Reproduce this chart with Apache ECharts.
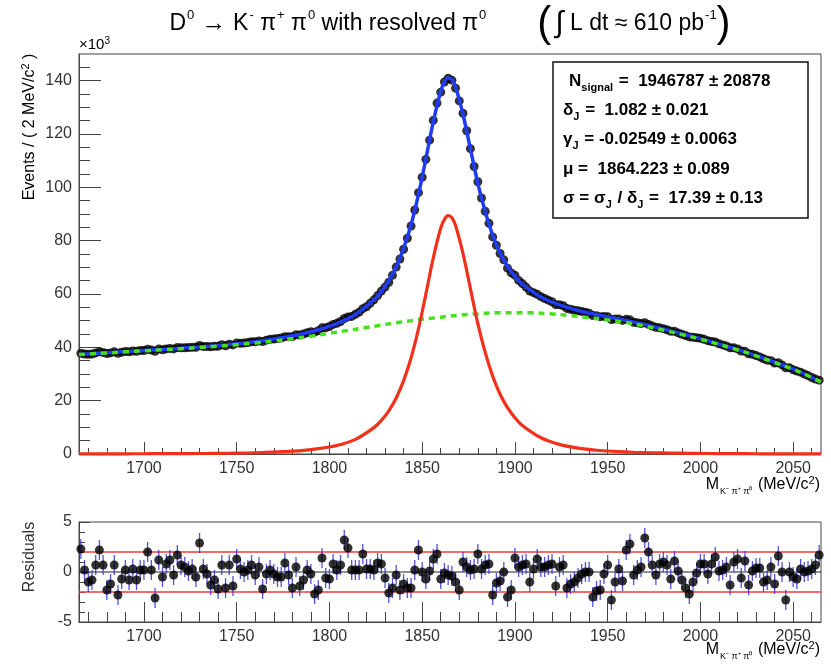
<!DOCTYPE html>
<html>
<head>
<meta charset="utf-8">
<script src="https://cdn.jsdelivr.net/npm/echarts@6/dist/echarts.min.js"></script>
<style>
  html, body { margin: 0; padding: 0; background: #fff; }
  #chart { width: 831px; height: 665px; }
</style>
</head>
<body>
<div id="chart"></div>
<script>
// Binning of the invariant-mass histogram (MeV/c^2)
const binLow = 1665;
const binWidth = 2;

// Events per 2 MeV/c^2 bin, in units of 10^3
const events = [
  37.8, 37.5, 37.4, 37.5, 37.9, 38.3, 38.1, 37.7, 37.9, 38.3,
  37.8, 38.2, 38.4, 38.3, 38.6, 38.5, 38.8, 38.8, 39.3, 39.0,
  38.5, 39.4, 39.1, 39.4, 39.6, 39.4, 39.9, 39.8, 39.8, 39.9,
  40.0, 40.0, 40.7, 40.3, 40.3, 40.2, 40.4, 40.4, 41.0, 40.6,
  41.2, 40.9, 41.6, 41.5, 41.6, 41.8, 42.1, 42.1, 42.4, 42.2,
  42.7, 43.0, 43.1, 43.3, 43.5, 44.0, 44.0, 44.0, 44.7, 44.6,
  45.0, 45.5, 45.8, 45.7, 46.2, 47.3, 47.3, 47.8, 48.6, 49.0,
  49.7, 50.8, 51.4, 51.6, 52.4, 53.2, 54.5, 55.2, 56.5, 57.8,
  59.4, 61.1, 62.6, 64.4, 67.0, 70.1, 73.1, 76.8, 80.9, 85.5,
  91.5, 98.0, 103.8, 110.5, 117.7, 125.1, 131.6, 135.7, 139.5, 140.9,
  140.2, 137.2, 132.4, 127.8, 121.2, 114.5, 107.8, 102.1, 96.0, 91.0,
  86.5, 81.4, 78.3, 75.2, 72.8, 69.7, 67.9, 67.0, 65.1, 63.9,
  62.6, 61.1, 60.5, 59.9, 59.0, 58.3, 57.7, 57.1, 56.0, 56.0,
  55.6, 54.6, 54.3, 53.9, 53.7, 53.4, 53.2, 52.8, 51.9, 51.8,
  51.5, 51.6, 51.5, 50.4, 50.6, 50.6, 50.1, 50.5, 50.3, 49.4,
  49.2, 48.9, 49.2, 48.6, 48.0, 47.5, 47.3, 47.0, 46.6, 46.0,
  46.0, 45.4, 44.9, 44.4, 43.9, 43.8, 43.6, 43.4, 43.0, 42.5,
  42.2, 42.0, 41.3, 40.9, 40.5, 39.8, 39.8, 39.4, 38.6, 38.5,
  37.6, 37.4, 36.9, 36.4, 35.7, 35.2, 35.0, 34.1, 34.2, 33.4,
  32.3, 32.3, 31.6, 31.1, 30.7, 30.0, 29.4, 28.7, 28.1, 27.7
];

// Normalised residuals (data - fit) / error for each bin
const pulls = [
  2.3, 0.2, -1.0, -0.8, 0.7, 2.2, 0.7, -1.8, -1.2, 0.7,
  -2.3, -0.7, 0.2, -0.8, 0.3, -0.8, 0.2, 0.2, 2.0, 0.2,
  -2.6, 1.2, -0.5, 0.8, 1.2, -0.3, 1.7, 0.7, 0.5, 0.1,
  0.3, -0.5, 2.9, 0.3, -0.2, -1.3, -0.8, -1.7, 0.7, -1.6,
  0.7, -1.4, 1.3, 0.3, 0.0, 0.2, 0.7, -0.3, 0.5, -1.7,
  -0.2, 0.2, -0.2, -0.5, -0.5, 0.9, -0.3, -1.6, 0.5, -1.4,
  -0.8, 0.2, -0.2, -2.2, -1.8, 1.4, -0.6, -0.7, 0.8, 0.2,
  0.7, 3.2, 2.4, 0.2, 0.2, 0.2, 1.8, 0.3, 0.3, 0.2,
  0.9, 0.8, -0.6, -2.1, -1.6, -0.3, -1.8, -1.2, -1.6, -1.6,
  0.2, 2.2, 0.0, -0.7, 0.1, 1.3, 1.8, -0.7, -0.1, -0.3,
  -0.4, -1.0, -1.8, 1.0, 0.5, 0.2, 0.3, 1.8, 0.3, 0.7,
  0.8, -2.3, -1.1, -0.9, 0.0, -2.5, -1.8, 1.4, 0.5, 0.7,
  0.8, -1.0, 0.3, 1.3, 0.5, 0.5, 0.7, 0.8, -1.4, 0.5,
  0.7, -1.6, -1.2, -1.0, -0.6, -0.2, 0.0, 0.0, -2.5, -1.9,
  -1.8, -0.2, 0.7, -2.8, -1.0, 0.3, -0.9, 2.2, 2.8, -0.3,
  0.2, 0.5, 3.4, 2.0, 0.7, -0.3, 0.8, 1.0, 0.7, -0.7,
  1.1, 0.1, -0.8, -1.6, -2.2, -1.0, -0.1, 0.8, 0.8, -0.2,
  0.8, 1.5, 0.1, 0.2, 0.5, -1.3, 1.0, 1.3, -0.6, 1.1,
  -1.3, 0.1, 0.4, 0.4, -1.0, -0.8, 0.5, -1.2, 1.6, 0.0,
  -2.8, 0.0, -0.5, -0.7, 0.3, 0.0, 0.1, 0.3, 0.7, 1.7
];

// Mass points at which the fit curves are sampled (MeV/c^2)
const curveMass = [
  1665, 1675, 1685, 1695, 1705, 1715, 1725, 1735, 1745, 1755,
  1765, 1775, 1785, 1795, 1804, 1814, 1824, 1828, 1832, 1836,
  1840, 1844, 1848, 1852, 1856, 1860, 1862, 1864, 1866, 1868,
  1872, 1876, 1880, 1884, 1888, 1892, 1896, 1900, 1904, 1914,
  1924, 1934, 1944, 1954, 1964, 1974, 1984, 1994, 2004, 2014,
  2024, 2034, 2044, 2054, 2065
];

// Total fit (signal + background), 10^3 events per bin
const fitTotal = [
  37.3, 37.8, 38.2, 38.6, 39.0, 39.4, 39.9, 40.4, 41.0, 41.7,
  42.6, 43.7, 45.0, 46.8, 48.9, 52.3, 57.8, 60.9, 65.0, 70.2,
  77.1, 86.0, 97.3, 110.7, 124.6, 136.0, 139.5, 141.0, 140.4, 137.6,
  127.4, 114.4, 101.5, 90.8, 82.1, 75.4, 70.4, 66.6, 63.7, 58.9,
  55.9, 53.8, 52.2, 50.9, 49.45, 47.9, 46.1, 44.35, 42.5, 40.4,
  38.3, 35.9, 33.4, 30.65, 27.0
];

// Johnson SU signal component
const fitSignal = [
  0.04, 0.05, 0.07, 0.09, 0.11, 0.13, 0.16, 0.21, 0.28, 0.37,
  0.58, 0.92, 1.3, 2.1, 3.2, 5.5, 9.9, 12.6, 16.2, 21.0,
  27.5, 36.0, 46.9, 60.0, 73.6, 84.7, 88.0, 89.4, 88.6, 85.7,
  75.2, 62.0, 48.9, 38.0, 29.2, 22.4, 17.4, 13.6, 10.7, 6.1,
  3.6, 2.2, 1.4, 0.97, 0.65, 0.47, 0.34, 0.25, 0.19, 0.14,
  0.11, 0.08, 0.06, 0.05, 0.04
];

// Combinatorial background component
const fitBackground = [
  37.3, 37.7, 38.1, 38.5, 38.9, 39.3, 39.7, 40.2, 40.7, 41.3,
  42.0, 42.8, 43.7, 44.7, 45.7, 46.8, 47.9, 48.3, 48.8, 49.2,
  49.6, 50.0, 50.4, 50.7, 51.0, 51.3, 51.5, 51.6, 51.8, 51.9,
  52.2, 52.4, 52.6, 52.8, 52.9, 53.0, 53.0, 53.0, 53.0, 52.8,
  52.3, 51.6, 50.8, 49.9, 48.8, 47.4, 45.8, 44.1, 42.3, 40.3,
  38.2, 35.8, 33.3, 30.6, 27.0
];

// Axis tick values
const massTicks = [1700, 1750, 1800, 1850, 1900, 1950, 2000, 2050];
const eventTicks = [0, 20, 40, 60, 80, 100, 120, 140];
const pullTicks = [-5, 0, 5];

const massMin = binLow;
const massMax = binLow + binWidth * events.length;

const massMinor = [];
for (let m = 1670; m <= 2060; m += 10) if (m % 50 !== 0) massMinor.push(m);
const eventMinor = [];
for (let v = 5; v <= 145; v += 5) if (v % 20 !== 0) eventMinor.push(v);
const pullMinor = [-4, -3, -2, -1, 1, 2, 3, 4];

const binCenter = i => binLow + binWidth * (i + 0.5);
const eventPoints = events.map((v, i) => [binCenter(i), v]);
const pullPoints = pulls.map((v, i) => [binCenter(i), v]);
const pair = (xs, ys) => xs.map((x, i) => [x, ys[i]]);

const FONT = '"Liberation Sans", Arial, Helvetica, sans-serif';
const AXIS_COLOR = '#444';
const LABEL_COLOR = '#333';
const plain = v => String(v);

function massAxis(grid, major, minorLen, majorLen) {
  return major ? {
    type: 'value', gridIndex: grid, position: 'bottom', min: massMin, max: massMax,
    axisLine: { show: true, onZero: false, lineStyle: { color: AXIS_COLOR, width: 1 } },
    axisTick: { show: true, inside: true, length: majorLen, customValues: massTicks,
                lineStyle: { color: AXIS_COLOR, width: 1 } },
    axisLabel: { show: true, customValues: massTicks, formatter: plain, fontSize: 16,
                 fontFamily: FONT, color: LABEL_COLOR, margin: 7 },
    splitLine: { show: false }
  } : {
    type: 'value', gridIndex: grid, position: 'bottom', min: massMin, max: massMax,
    axisLine: { show: false, onZero: false },
    axisTick: { show: true, inside: true, length: minorLen, customValues: massMinor,
                lineStyle: { color: AXIS_COLOR, width: 1 } },
    axisLabel: { show: false },
    splitLine: { show: false }
  };
}

function valueAxis(grid, min, max, ticks, labels, len) {
  return {
    type: 'value', gridIndex: grid, position: 'left', min: min, max: max,
    axisLine: { show: labels, onZero: false, lineStyle: { color: AXIS_COLOR, width: 1 } },
    axisTick: { show: true, inside: true, length: len, customValues: ticks,
                lineStyle: { color: AXIS_COLOR, width: 1 } },
    axisLabel: labels ? { show: true, customValues: ticks, formatter: plain, fontSize: 16,
                          fontFamily: FONT, color: LABEL_COLOR, margin: 7 } : { show: false },
    splitLine: { show: false }
  };
}

function legendRich() {
  return {
    b: { fontSize: 17, fontWeight: 'bold', fontFamily: FONT, color: '#111', lineHeight: 24 },
    u: { fontSize: 11, fontWeight: 'bold', fontFamily: FONT, color: '#111', lineHeight: 11,
         verticalAlign: 'bottom', padding: [0, 1, 0, 0] }
  };
}

function massTitleStyle() {
  return {
    text: '{a|M}{b|K⁻ π⁺ π⁰}{a| (MeV/c}{s|2}{a|)}', align: 'right', verticalAlign: 'middle',
    rich: {
      a: { fontSize: 16, fontFamily: FONT, color: '#333', lineHeight: 22 },
      b: { fontSize: 9, fontFamily: FONT, color: '#333', lineHeight: 9,
           verticalAlign: 'bottom', padding: [0, 1, 0, 1] },
      s: { fontSize: 11, fontFamily: FONT, color: '#333', lineHeight: 11,
           verticalAlign: 'top', padding: [1, 0, 0, 0] }
    }
  };
}

const chart = echarts.init(document.getElementById('chart'), null, { renderer: 'canvas' });

chart.setOption({
  animation: false,
  backgroundColor: '#fff',
  grid: [
    { left: 79, top: 54, width: 742, height: 400, show: true,
      borderColor: AXIS_COLOR, borderWidth: 1, backgroundColor: 'transparent' },
    { left: 79, top: 522, width: 742, height: 100, show: true,
      borderColor: AXIS_COLOR, borderWidth: 1, backgroundColor: 'transparent' }
  ],
  xAxis: [
    massAxis(0, true, 6, 12),
    massAxis(0, false, 6, 12),
    massAxis(1, true, 10, 20),
    massAxis(1, false, 10, 20)
  ],
  yAxis: [
    valueAxis(0, 0, 150, eventTicks, true, 22),
    valueAxis(0, 0, 150, eventMinor, false, 11),
    valueAxis(1, -5, 5, pullTicks, true, 11),
    valueAxis(1, -5, 5, pullMinor, false, 6)
  ],
  series: [
    {
      name: 'data', type: 'scatter', xAxisIndex: 0, yAxisIndex: 0,
      data: eventPoints, symbol: 'circle', symbolSize: 9,
      itemStyle: { color: '#000' }, z: 2
    },
    {
      name: 'total fit', type: 'line', xAxisIndex: 0, yAxisIndex: 0,
      data: pair(curveMass, fitTotal), smooth: 0.3, showSymbol: false, symbol: 'none',
      lineStyle: { color: '#1f3cf2', width: 3.5 }, z: 3
    },
    {
      name: 'background', type: 'line', xAxisIndex: 0, yAxisIndex: 0,
      data: pair(curveMass, fitBackground), smooth: 0.3, showSymbol: false, symbol: 'none',
      lineStyle: { color: '#46e01e', width: 3.5, type: [6, 5] }, z: 4
    },
    {
      name: 'signal', type: 'line', xAxisIndex: 0, yAxisIndex: 0, clip: false,
      data: pair(curveMass, fitSignal), smooth: 0.3, showSymbol: false, symbol: 'none',
      lineStyle: { color: '#f2301c', width: 3.2 }, z: 5
    },
    {
      name: 'zero', type: 'line', xAxisIndex: 2, yAxisIndex: 2,
      data: [[massMin, 0], [massMax, 0]], showSymbol: false, symbol: 'none',
      lineStyle: { color: '#222', width: 1.2 }, z: 1
    },
    {
      name: 'plus 2 sigma', type: 'line', xAxisIndex: 2, yAxisIndex: 2,
      data: [[massMin, 2], [massMax, 2]], showSymbol: false, symbol: 'none',
      lineStyle: { color: '#f03a3a', width: 1.6 }, z: 1
    },
    {
      name: 'minus 2 sigma', type: 'line', xAxisIndex: 2, yAxisIndex: 2,
      data: [[massMin, -2], [massMax, -2]], showSymbol: false, symbol: 'none',
      lineStyle: { color: '#f03a3a', width: 1.6 }, z: 1
    },
    {
      name: 'pull errors', type: 'custom', xAxisIndex: 2, yAxisIndex: 2,
      data: pullPoints, encode: { x: 0, y: 1 }, z: 2,
      renderItem: function (params, api) {
        const x = api.value(0), y = api.value(1);
        const lo = api.coord([x, y - 1]);
        const hi = api.coord([x, y + 1]);
        return {
          type: 'line',
          shape: { x1: lo[0], y1: lo[1], x2: hi[0], y2: hi[1] },
          style: { stroke: '#3434d8', lineWidth: 1.3, opacity: 0.85 }
        };
      }
    },
    {
      name: 'pulls', type: 'scatter', xAxisIndex: 2, yAxisIndex: 2,
      data: pullPoints, symbol: 'circle', symbolSize: 9,
      itemStyle: { color: '#000' }, z: 3
    }
  ],
  graphic: [
    {
      type: 'text', x: 450, y: 24, z: 10,
      style: {
        text: '{t|D}{s|0}{a| → }{t|K}{s|-}{t| π}{s|+}{t| π}{s|0}{t| with resolved π}{s|0}{t|        }{p|(}{i|∫}{t| L dt ≈ 610 pb}{s|-1}{p|)}',
        align: 'center', verticalAlign: 'middle',
        rich: {
          t: { fontSize: 23, fontFamily: FONT, color: '#111', lineHeight: 44 },
          a: { fontSize: 25, fontFamily: FONT, color: '#111', lineHeight: 44 },
          s: { fontSize: 13, fontFamily: FONT, color: '#111', lineHeight: 13,
               verticalAlign: 'top', padding: [7, 0, 0, 1] },
          p: { fontSize: 42, fontFamily: FONT, color: '#111', lineHeight: 44, fontWeight: 'lighter' },
          i: { fontSize: 30, fontFamily: FONT, color: '#111', lineHeight: 44, padding: [0, 0, 0, 4] }
        }
      }
    },
    {
      type: 'text', x: 79, y: 45, z: 10,
      style: {
        text: '{a|×10}{s|3}', align: 'left', verticalAlign: 'middle',
        rich: {
          a: { fontSize: 15, fontFamily: FONT, color: '#444', lineHeight: 20 },
          s: { fontSize: 10, fontFamily: FONT, color: '#444', lineHeight: 10,
               verticalAlign: 'top', padding: [1, 0, 0, 0] }
        }
      }
    },
    {
      type: 'text', x: 30, y: 127, rotation: Math.PI / 2, z: 10,
      style: {
        text: '{a|Events / ( 2 MeV/c}{s|2}{a| )}', align: 'center', verticalAlign: 'middle',
        rich: {
          a: { fontSize: 16, fontFamily: FONT, color: '#333', lineHeight: 22 },
          s: { fontSize: 11, fontFamily: FONT, color: '#333', lineHeight: 11,
               verticalAlign: 'top', padding: [1, 0, 0, 0] }
        }
      }
    },
    {
      type: 'text', x: 30, y: 557, rotation: Math.PI / 2, z: 10,
      style: {
        text: 'Residuals', align: 'center', verticalAlign: 'middle',
        fontSize: 16, fontFamily: FONT, fill: '#333'
      }
    },
    { type: 'text', x: 820, y: 485, z: 10, style: massTitleStyle() },
    { type: 'text', x: 820, y: 650, z: 10, style: massTitleStyle() },
    {
      type: 'group', z: 20,
      children: [
        {
          type: 'rect', shape: { x: 553, y: 62, width: 255, height: 156 },
          style: { fill: '#fff', stroke: '#111', lineWidth: 1.5 }
        },
        {
          type: 'text', x: 569, y: 81,
          style: {
            text: '{b|N}{u|signal}{b| =  1946787 ± 20878}', align: 'left', verticalAlign: 'middle',
            rich: legendRich()
          }
        },
        {
          type: 'text', x: 563, y: 110,
          style: {
            text: '{b|δ}{u|J}{b| =  1.082 ± 0.021}', align: 'left', verticalAlign: 'middle',
            rich: legendRich()
          }
        },
        {
          type: 'text', x: 563, y: 139,
          style: {
            text: '{b|γ}{u|J}{b| = -0.02549 ± 0.0063}', align: 'left', verticalAlign: 'middle',
            rich: legendRich()
          }
        },
        {
          type: 'text', x: 563, y: 169,
          style: {
            text: '{b|μ =  1864.223 ± 0.089}', align: 'left', verticalAlign: 'middle',
            rich: legendRich()
          }
        },
        {
          type: 'text', x: 563, y: 198,
          style: {
            text: '{b|σ = σ}{u|J}{b| / δ}{u|J}{b| =  17.39 ± 0.13}', align: 'left', verticalAlign: 'middle',
            rich: legendRich()
          }
        }
      ]
    }
  ]
});
</script>
</body>
</html>
